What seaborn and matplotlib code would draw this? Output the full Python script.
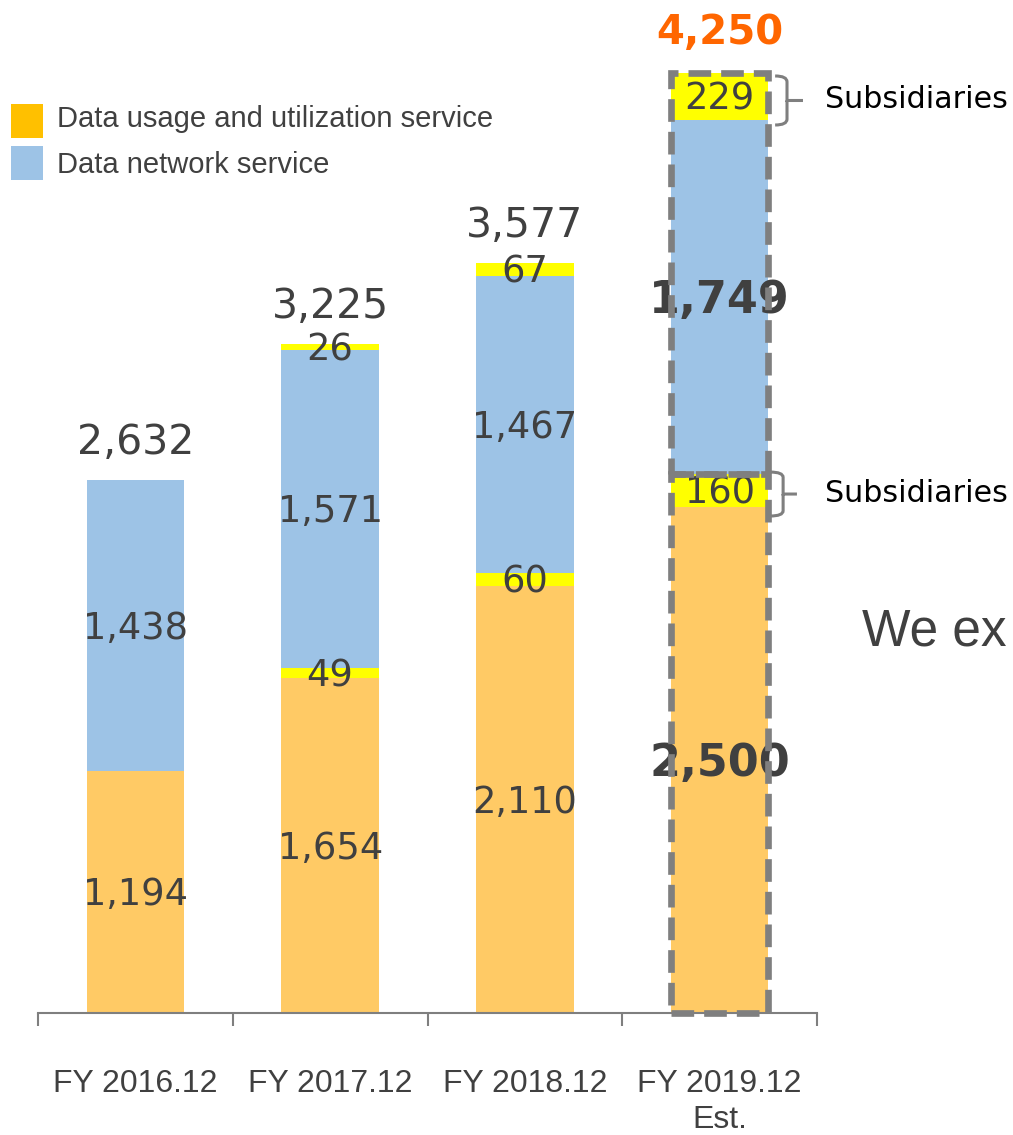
import matplotlib
matplotlib.use("Agg")
import matplotlib.pyplot as plt
from matplotlib.patches import Rectangle, PathPatch
from matplotlib.path import Path
import seaborn as sns
import numpy as np

# ---------------- data ----------------
categories = ["FY 2016.12", "FY 2017.12", "FY 2018.12", "FY 2019.12\nEst."]
usage = [1194, 1654, 2110, 2500]          # Data usage and utilization service
usage_sub = [0, 49, 60, 160]              # subsidiaries (usage)
network = [1438, 1571, 1467, 1749]        # Data network service
network_sub = [0, 26, 67, 229]            # subsidiaries (network)
totals = [2632, 3225, 3577, 4250]
legend_labels = ["Data usage and utilization service", "Data network service"]

# ---------------- style ----------------
sns.set_style("white")
plt.rcParams["font.family"] = ["DejaVu Sans"]

C_USAGE = "#FFCA65"
C_NET = "#9DC3E6"
C_SUB = "#FFFF00"
C_LEG_USAGE = "#FFC000"
C_TXT = "#404040"
C_GRAY = "#7F7F7F"

W, H = 1013, 1135
fig = plt.figure(figsize=(W / 100, H / 100), dpi=100)
ax = fig.add_axes([38 / W, 122 / H, 779 / W, 1013 / H])

# cumulative stacks (drawn back to front)
l1 = np.array(usage)
l2 = l1 + np.array(usage_sub)
l3 = l2 + np.array(network)
l4 = l3 + np.array(network_sub)

for vals, col in [(l4, C_SUB), (l3, C_NET), (l2, C_SUB), (l1, C_USAGE)]:
    sns.barplot(x=categories, y=vals, order=categories, color=col, width=0.5,
                saturation=1, errorbar=None, ax=ax, zorder=2, linewidth=0)

ax.set_xlim(-0.5, len(categories) - 0.5)
ax.set_ylim(0, 5000)
ax.set_xlabel("")
ax.set_ylabel("")
ax.set_yticks([])
for s in ["left", "top", "right"]:
    ax.spines[s].set_visible(False)
ax.spines["bottom"].set_color(C_GRAY)
ax.spines["bottom"].set_linewidth(1.5)

ax.set_xticks(range(len(categories)))
ax.set_xticklabels(categories, fontfamily="Liberation Sans", fontsize=23, color=C_TXT)
for t in ax.get_xticklabels():
    t.set_linespacing(1.3)
ax.set_xticks(np.arange(-0.5, len(categories), 1.0), minor=True)
ax.tick_params(axis="x", which="both", bottom=True)
ax.tick_params(axis="x", which="major", length=0, pad=40)
ax.tick_params(axis="x", which="minor", length=9.4, width=1.5, color=C_GRAY, direction="out")


def label(x, yc, s, size=26.5, weight="normal", color=C_TXT):
    off = -0.729 * size / 2.0
    ax.annotate(s, xy=(x, yc), xytext=(0, off), textcoords="offset points",
                ha="center", va="baseline", fontsize=size, fontweight=weight,
                color=color, fontfamily="DejaVu Sans", zorder=3,
                annotation_clip=False)


n = len(categories)
for i in range(n):
    last = (i == n - 1)
    size_main = 32 if last else 26.5
    w_main = "bold" if last else "normal"
    label(i, l1[i] / 2, f"{usage[i]:,}", size_main, w_main)
    if usage_sub[i]:
        label(i, (l1[i] + l2[i]) / 2, f"{usage_sub[i]:,}")
    label(i, (l2[i] + l3[i]) / 2, f"{network[i]:,}", size_main, w_main)
    if network_sub[i]:
        label(i, (l3[i] + l4[i]) / 2, f"{network_sub[i]:,}")
    # totals
    if last:
        ax.annotate(f"{totals[i]:,}", xy=(i, l4[i]), xytext=(0, 21), textcoords="offset points",
                    ha="center", va="baseline", fontsize=29, fontweight="bold",
                    color="#FF6600", zorder=3, annotation_clip=False)
    else:
        ax.annotate(f"{totals[i]:,}", xy=(i, l4[i]), xytext=(0, 18.7), textcoords="offset points",
                    ha="center", va="baseline", fontsize=29.5, color=C_TXT,
                    zorder=3, annotation_clip=False)

# dashed boxes around the estimate bar
k = n - 1
for y0, y1 in [(0, l2[k]), (l2[k], l4[k])]:
    ax.add_patch(Rectangle((k - 0.25, y0), 0.5, y1 - y0, fill=False, edgecolor=C_GRAY,
                           linewidth=4.8, linestyle=(0, (3.4, 1.5)), zorder=4, clip_on=False))


# curly brackets + "Subsidiaries"
def bracket(x_left, x_v, x_nub, top, bot):
    mid = (top + bot) / 2
    r = (top - bot) * 0.12
    verts = [(x_left, top), (x_v, top), (x_v, top - r),
             (x_v, mid + r), (x_v, mid), (x_nub, mid),
             (x_v, mid), (x_v, mid - r),
             (x_v, bot + r), (x_v, bot), (x_left, bot)]
    codes = [Path.MOVETO, Path.CURVE3, Path.CURVE3,
             Path.LINETO, Path.LINETO, Path.LINETO,
             Path.MOVETO, Path.LINETO,
             Path.LINETO, Path.CURVE3, Path.CURVE3]
    ax.add_patch(PathPatch(Path(verts, codes), fill=False, edgecolor=C_GRAY, lw=2.2,
                           clip_on=False, zorder=4, capstyle="butt"))
    ax.annotate("Subsidiaries", xy=(3.54, mid), xytext=(0, -0.729 * 21.7 / 2 + 2.5),
                textcoords="offset points", ha="left", va="baseline", fontsize=21.7,
                color="black", fontfamily="DejaVu Sans", annotation_clip=False)

bracket(3.285, 3.346, 3.428, l4[k] - 13, l3[k] - 26)
bracket(3.259, 3.326, 3.397, l2[k] + 10, l1[k] - 47)

ax.text(3.73, 1816, "We ex", ha="left", va="baseline", fontsize=37,
        fontfamily="Liberation Sans", color=C_TXT, clip_on=False)

# legend (manual)
for (y_top, col, txt, base) in [(104, C_LEG_USAGE, legend_labels[0], 127),
                                (146, C_NET, legend_labels[1], 173)]:
    fig.patches.append(Rectangle((11 / W, 1 - (y_top + 34) / H), 32 / W, 34 / H,
                                 transform=fig.transFigure, facecolor=col, edgecolor="none"))
    fig.text(57 / W, 1 - base / H, txt, ha="left", va="baseline", fontsize=21,
             fontfamily="Liberation Sans", color=C_TXT)

fig.savefig("out.png", dpi=100)
